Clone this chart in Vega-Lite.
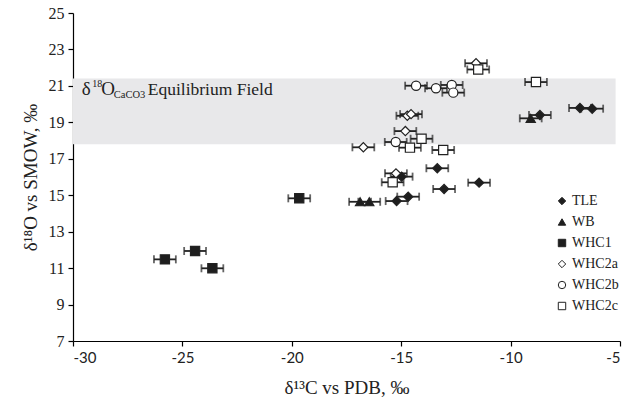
{
  "$schema": "https://vega.github.io/schema/vega-lite/v6.json",
  "width": 547,
  "height": 328,
  "autosize": "none",
  "padding": {"left": 73, "top": 13, "right": 4, "bottom": 62},
  "background": "white",
  "config": {
    "view": {"stroke": null},
    "axis": {"grid": false, "domainColor": "#000", "tickColor": "#000", "domainWidth": 1.2, "tickWidth": 1.2, "tickSize": 5, "labelColor": "#222", "titleColor": "#222", "titleFontWeight": "normal", "labelOverlap": false},
    "axisX": {"labelFont": "Lato", "labelFontSize": 15, "labelPadding": 4, "titleFont": "Liberation Serif", "titleFontSize": 19, "titlePadding": 13},
    "axisY": {"labelFont": "Liberation Serif", "labelFontSize": 16, "labelPadding": 4, "titleFont": "Liberation Serif", "titleFontSize": 19, "titlePadding": 8}
  },
  "datasets": {
    "pts": [
      {"series": "TLE", "x": -6.83, "y": 19.79, "err": 0.5},
      {"series": "TLE", "x": -6.27, "y": 19.75, "err": 0.5},
      {"series": "TLE", "x": -8.66, "y": 19.40, "err": 0.5},
      {"series": "TLE", "x": -13.35, "y": 16.48, "err": 0.5},
      {"series": "TLE", "x": -14.98, "y": 16.02, "err": 0.5},
      {"series": "TLE", "x": -11.44, "y": 15.69, "err": 0.5},
      {"series": "TLE", "x": -13.04, "y": 15.34, "err": 0.5},
      {"series": "TLE", "x": -14.68, "y": 14.92, "err": 0.5},
      {"series": "TLE", "x": -15.21, "y": 14.68, "err": 0.5},
      {"series": "WB", "x": -9.08, "y": 19.22, "err": 0.5},
      {"series": "WB", "x": -16.88, "y": 14.64, "err": 0.5},
      {"series": "WB", "x": -16.46, "y": 14.64, "err": 0.5},
      {"series": "WHC1", "x": -19.66, "y": 14.83, "err": 0.5},
      {"series": "WHC1", "x": -24.42, "y": 11.94, "err": 0.5},
      {"series": "WHC1", "x": -25.80, "y": 11.48, "err": 0.5},
      {"series": "WHC1", "x": -23.63, "y": 10.99, "err": 0.5},
      {"series": "WHC2a", "x": -11.58, "y": 22.24, "err": 0.5},
      {"series": "WHC2a", "x": -14.72, "y": 19.36, "err": 0.5},
      {"series": "WHC2a", "x": -14.55, "y": 19.45, "err": 0.5},
      {"series": "WHC2a", "x": -14.81, "y": 18.52, "err": 0.5},
      {"series": "WHC2a", "x": -16.73, "y": 17.63, "err": 0.5},
      {"series": "WHC2a", "x": -15.24, "y": 16.20, "err": 0.5},
      {"series": "WHC2b", "x": -14.32, "y": 21.01, "err": 0.5},
      {"series": "WHC2b", "x": -13.41, "y": 20.87, "err": 0.5},
      {"series": "WHC2b", "x": -12.69, "y": 21.05, "err": 0.5},
      {"series": "WHC2b", "x": -12.62, "y": 20.63, "err": 0.5},
      {"series": "WHC2b", "x": -15.25, "y": 17.92, "err": 0.5},
      {"series": "WHC2c", "x": -11.48, "y": 21.90, "err": 0.5},
      {"series": "WHC2c", "x": -8.84, "y": 21.21, "err": 0.5},
      {"series": "WHC2c", "x": -14.07, "y": 18.10, "err": 0.5},
      {"series": "WHC2c", "x": -14.60, "y": 17.61, "err": 0.5},
      {"series": "WHC2c", "x": -13.08, "y": 17.48, "err": 0.5},
      {"series": "WHC2c", "x": -15.39, "y": 15.71, "err": 0.5}
    ],
    "band": [{"x1": -30, "x2": -5.2, "y1": 17.8, "y2": 21.4, "tx": -29.6, "ty": 20.5}]
  },
  "layer": [
    {
      "data": {"name": "band"},
      "mark": {"type": "rect", "color": "#e8e8ea"},
      "encoding": {
        "x": {"field": "x1", "type": "quantitative", "scale": {"domain": [-30, -5], "nice": false, "zero": false}, "axis": {"title": "δ¹³C vs PDB, ‰", "values": [-30, -25, -20, -15, -10, -5], "labelExpr": "datum.value < 0 ? '-' + abs(datum.value) : '' + datum.value"}},
        "x2": {"field": "x2"},
        "y": {"field": "y1", "type": "quantitative", "scale": {"domain": [7, 25], "nice": false, "zero": false}, "axis": {"title": "δ¹⁸O vs SMOW, ‰", "values": [7, 9, 11, 13, 15, 17, 19, 21, 23, 25]}},
        "y2": {"field": "y2"}
      }
    },
    {
      "data": {"name": "band"},
      "layer": [
        {"mark": {"type": "text", "font": "Liberation Serif", "fontSize": 19, "color": "#222", "align": "left", "baseline": "alphabetic", "text": "δ"}},
        {"mark": {"type": "text", "font": "Liberation Serif", "fontSize": 10, "color": "#222", "align": "left", "baseline": "alphabetic", "text": "18", "dx": 10.5, "dy": -8.5}},
        {"mark": {"type": "text", "font": "Liberation Serif", "fontSize": 19, "color": "#222", "align": "left", "baseline": "alphabetic", "text": "O", "dx": 19.5}},
        {"mark": {"type": "text", "font": "Liberation Serif", "fontSize": 10.5, "color": "#222", "align": "left", "baseline": "alphabetic", "text": "CaCO3", "dx": 32, "dy": 3}},
        {"mark": {"type": "text", "font": "Liberation Serif", "fontSize": 17.5, "color": "#222", "align": "left", "baseline": "alphabetic", "text": "Equilibrium Field", "dx": 66}}
      ],
      "encoding": {"x": {"field": "tx", "type": "quantitative", "axis": {"title": "δ¹³C vs PDB, ‰", "values": [-30, -25, -20, -15, -10, -5], "labelExpr": "datum.value < 0 ? '-' + abs(datum.value) : '' + datum.value"}}, "y": {"field": "ty", "type": "quantitative", "axis": {"title": "δ¹⁸O vs SMOW, ‰", "values": [7, 9, 11, 13, 15, 17, 19, 21, 23, 25]}}}
    },
    {
      "data": {"name": "pts"},
      "mark": {"type": "errorbar", "ticks": {"size": 8, "thickness": 1.8, "color": "#222"}, "rule": {"strokeWidth": 1.8, "color": "#222"}},
      "encoding": {
        "x": {"field": "x", "type": "quantitative", "axis": {"title": "δ¹³C vs PDB, ‰", "values": [-30, -25, -20, -15, -10, -5], "labelExpr": "datum.value < 0 ? '-' + abs(datum.value) : '' + datum.value"}},
        "xError": {"field": "err"},
        "y": {"field": "y", "type": "quantitative", "axis": {"title": "δ¹⁸O vs SMOW, ‰", "values": [7, 9, 11, 13, 15, 17, 19, 21, 23, 25]}}
      }
    },
    {
      "data": {"name": "pts"},
      "mark": {"type": "point", "filled": true, "size": 85, "strokeWidth": 1.2, "opacity": 1},
      "encoding": {
        "x": {"field": "x", "type": "quantitative", "axis": {"title": "δ¹³C vs PDB, ‰", "values": [-30, -25, -20, -15, -10, -5], "labelExpr": "datum.value < 0 ? '-' + abs(datum.value) : '' + datum.value"}},
        "y": {"field": "y", "type": "quantitative", "axis": {"title": "δ¹⁸O vs SMOW, ‰", "values": [7, 9, 11, 13, 15, 17, 19, 21, 23, 25]}},
        "shape": {
          "field": "series", "type": "nominal",
          "scale": {"domain": ["TLE", "WB", "WHC1", "WHC2a", "WHC2b", "WHC2c"], "range": ["diamond", "triangle-up", "square", "diamond", "circle", "square"]},
          "legend": {"title": null, "orient": "none", "legendX": 482, "legendY": 181, "labelFont": "Liberation Serif", "labelFontSize": 14, "labelColor": "#222", "symbolSize": 55, "symbolStrokeWidth": 1, "rowPadding": 7, "labelOffset": 3}
        },
        "fill": {
          "field": "series", "type": "nominal",
          "scale": {"domain": ["TLE", "WB", "WHC1", "WHC2a", "WHC2b", "WHC2c"], "range": ["#1e1e1e", "#1e1e1e", "#1e1e1e", "#ffffff", "#ffffff", "#ffffff"]},
          "legend": {"title": null, "orient": "none", "legendX": 482, "legendY": 181, "labelFont": "Liberation Serif", "labelFontSize": 14, "labelColor": "#222", "symbolSize": 55, "symbolStrokeWidth": 1, "rowPadding": 7, "labelOffset": 3}
        },
        "stroke": {
          "field": "series", "type": "nominal",
          "scale": {"domain": ["TLE", "WB", "WHC1", "WHC2a", "WHC2b", "WHC2c"], "range": ["#222222", "#222222", "#222222", "#222222", "#222222", "#222222"]},
          "legend": {"title": null, "orient": "none", "legendX": 482, "legendY": 181, "labelFont": "Liberation Serif", "labelFontSize": 14, "labelColor": "#222", "symbolSize": 55, "symbolStrokeWidth": 1, "rowPadding": 7, "labelOffset": 3}
        }
      }
    }
  ]
}
